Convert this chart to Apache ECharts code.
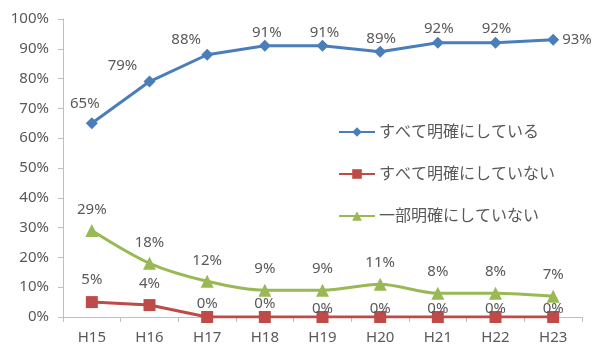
<!DOCTYPE html>
<html>
<head>
<meta charset="utf-8">
<script src="https://cdn.jsdelivr.net/npm/echarts@6/dist/echarts.min.js"></script>
<style>
  html, body { margin: 0; padding: 0; background: #fff; }
  #chart { width: 593px; height: 345px; }
</style>
</head>
<body>
<div id="chart"></div>
<script>
// Fiscal years (Heisei)
const categories = ['H15', 'H16', 'H17', 'H18', 'H19', 'H20', 'H21', 'H22', 'H23'];

// Share of respondents (%)
const allClear = [65, 79, 88, 91, 91, 89, 92, 92, 93];
const noneClear = [5, 4, 0, 0, 0, 0, 0, 0, 0];
const partlyUnclear = [29, 18, 12, 9, 9, 11, 8, 8, 7];

const seriesNames = ['すべて明確にしている', 'すべて明確にしていない', '一部明確にしていない'];

const textColor = '#595959';
const fontFamily = '"Noto Sans", "Noto Sans CJK JP", sans-serif';

// Nudges for individual value labels
const blueLabelOffsets = [[-7, -6], [-27, -2], [-21, -2], [2, 0], [2, 0], [1, 0], [1, -1], [1, -1], [0, 0]];
const redLabelOffsets = [[0, -6], [0, -5], [0, 3], [0, 3], [0, 8], [0, 8], [0, 8], [0, 8], [0, 8]];

function withLabels(values, offsets, lastRight) {
  return values.map((v, i) => {
    const item = { value: v };
    const lbl = {};
    if (offsets) lbl.offset = offsets[i];
    if (lastRight && i === values.length - 1) { lbl.position = 'right'; lbl.distance = 3; }
    item.label = lbl;
    return item;
  });
}

const chart = echarts.init(document.getElementById('chart'));
chart.setOption({
  animation: false,
  textStyle: { fontFamily: fontFamily },
  grid: { left: 63, right: 11, top: 19, bottom: 28 },
  legend: {
    orient: 'vertical',
    left: 333,
    top: 119,
    itemGap: 26,
    itemWidth: 36,
    itemHeight: 12,
    textStyle: { color: textColor, fontSize: 16, lineHeight: 16, fontFamily: fontFamily, padding: [0, 0, 0, -1] },
    data: seriesNames
  },
  xAxis: {
    type: 'category',
    data: categories,
    boundaryGap: true,
    axisLine: { lineStyle: { color: '#bfbfbf', width: 1 } },
    axisTick: { show: true, alignWithLabel: false, length: 5, lineStyle: { color: '#bfbfbf' } },
    axisLabel: { color: textColor, fontSize: 15, margin: 13 },
    splitLine: { show: false }
  },
  yAxis: {
    type: 'value',
    min: 0,
    max: 100,
    interval: 10,
    axisLine: { show: true, lineStyle: { color: '#bfbfbf', width: 1 } },
    axisTick: { show: true, length: 5, lineStyle: { color: '#bfbfbf' } },
    axisLabel: { color: textColor, fontSize: 15, formatter: '{value}%', margin: 14 },
    splitLine: { show: false }
  },
  series: [
    {
      name: seriesNames[0],
      type: 'line',
      data: withLabels(allClear, blueLabelOffsets, true),
      symbol: 'diamond',
      symbolSize: 12,
      lineStyle: { color: '#4a7ebb', width: 3 },
      itemStyle: { color: '#4a7ebb' },
      label: { show: true, position: 'top', distance: 0, color: textColor, fontSize: 15, formatter: '{c}%' },
      z: 3
    },
    {
      name: seriesNames[1],
      type: 'line',
      data: withLabels(noneClear, redLabelOffsets, false),
      symbol: 'rect',
      symbolSize: 12,
      lineStyle: { color: '#be4b48', width: 3 },
      itemStyle: { color: '#be4b48' },
      label: { show: true, position: 'top', distance: 3, color: textColor, fontSize: 15, formatter: '{c}%' },
      z: 2
    },
    {
      name: seriesNames[2],
      type: 'line',
      data: partlyUnclear,
      smooth: 0.3,
      symbol: 'triangle',
      symbolSize: 13,
      lineStyle: { color: '#98b954', width: 3 },
      itemStyle: { color: '#98b954' },
      label: { show: true, position: 'top', distance: 7, color: textColor, fontSize: 15, formatter: '{c}%' },
      z: 2
    }
  ]
});
</script>
</body>
</html>
